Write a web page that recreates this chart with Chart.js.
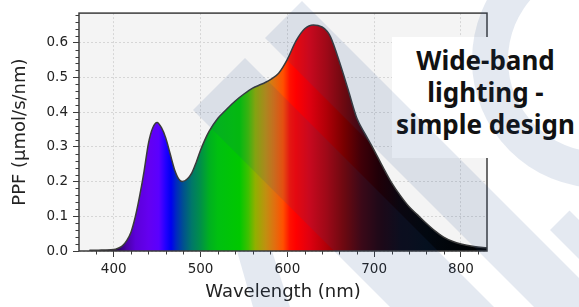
<!DOCTYPE html>
<html>
<head>
<meta charset="utf-8">
<script src="https://cdn.jsdelivr.net/npm/chart.js@4.4.1/dist/chart.umd.min.js"></script>
<style>
  html, body { margin: 0; padding: 0; background: #fff; }
  #wrap { position: relative; width: 579px; height: 307px; overflow: hidden; }
  #c { position: absolute; left: 0; top: 0; }
  #note {
    position: absolute; left: 392px; top: 37px; width: 187px; height: 121px;
    background: #fff; color: #111; text-align: center;
    font-family: "Noto Sans", "DejaVu Sans", sans-serif; font-weight: bold;
    font-size: 26px; line-height: 32px; padding-top: 7px; box-sizing: border-box;
  }
  #wm { position: absolute; left: 0; top: 0; pointer-events: none; }
</style>
</head>
<body>
<div id="wrap">
  <canvas id="c" width="579" height="307"></canvas>
  <div id="note">Wide-band<br>lighting -<br>simple design</div>
  <svg id="wm" width="579" height="307" viewBox="0 0 579 307">
    <g fill="rgb(30,70,140)" fill-opacity="0.12">
      <polygon points="245,58 193,110 593,510 645,458"/>
      <polygon points="302,1 265,38 665,438 702,401"/>
      <polygon points="569.5,210.5 550,230 850,530 869.5,510.5"/>
      <path fill-rule="evenodd" d="M 728 60 A 128 128 0 1 0 472 60 A 128 128 0 1 0 728 60 Z M 692 60 A 92 92 0 1 0 508 60 A 92 92 0 1 0 692 60 Z"/>
      <polygon points="237,251 253,307 290,307 272,251"/>
    </g>
  </svg>
</div>
<script>
// spectrum (nm, µmol/s/nm)
const wavelengths = [372, 380, 390, 400, 405, 410, 415, 420, 425, 430, 435, 440, 445, 450, 455,
  460, 465, 470, 475, 479, 485, 490, 495, 500, 505, 510, 520, 530, 540, 550, 560, 570, 575, 580, 590,
  600, 610, 620, 630, 640, 646, 650, 660, 670, 680, 690, 700, 710, 720, 730, 740, 750, 760, 770,
  780, 790, 800, 815, 830];
const ppf = [0.002, 0.002, 0.003, 0.004, 0.008, 0.015, 0.03, 0.055, 0.1, 0.16, 0.23, 0.31, 0.355, 0.37, 0.355,
  0.325, 0.28, 0.235, 0.207, 0.2, 0.208, 0.225, 0.255, 0.29, 0.32, 0.345, 0.382, 0.408, 0.432, 0.452, 0.469, 0.48, 0.486, 0.493, 0.512,
  0.552, 0.605, 0.64, 0.651, 0.645, 0.632, 0.615, 0.545, 0.465, 0.383, 0.335, 0.29, 0.242, 0.197, 0.16, 0.128, 0.104, 0.08, 0.058,
  0.04, 0.028, 0.02, 0.013, 0.009];

const xTicks = [400, 500, 600, 700, 800];
const yTicks = [0.0, 0.1, 0.2, 0.3, 0.4, 0.5, 0.6];
const xRange = [360, 830];
const yRange = [0, 0.685];

// colour of light along the wavelength axis
const spectrumStops = [
  [360, '#000000'], [395, '#100020'], [405, '#2a0060'], [415, '#4a00a8'], [425, '#5c00d8'],
  [440, '#6400f0'], [452, '#5a00ff'], [460, '#2000ff'], [466, '#0000f0'], [472, '#0028c0'],
  [480, '#005090'], [490, '#007868'], [500, '#009048'], [510, '#00b020'], [520, '#00c010'],
  [545, '#00c800'], [555, '#40c000'], [563, '#90b000'], [575, '#c09010'], [585, '#e07010'],
  [595, '#ff5000'], [603, '#ff1000'], [610, '#ff0000'], [625, '#e00010'], [645, '#b00008'],
  [665, '#780000'], [685, '#400008'], [705, '#200008'], [730, '#0a0610'], [760, '#020810'],
  [830, '#000000']
];

function spectrumFill(ctx) {
  const chart = ctx.chart;
  if (!chart.chartArea) return 'rgba(0,0,0,0)';
  const xs = chart.scales.x;
  const x0 = xs.getPixelForValue(xRange[0]), x1 = xs.getPixelForValue(xRange[1]);
  const g = chart.ctx.createLinearGradient(x0, 0, x1, 0);
  spectrumStops.forEach(([wl, col]) => g.addColorStop((wl - xRange[0]) / (xRange[1] - xRange[0]), col));
  return g;
}

const frame = {
  id: 'frame',
  beforeDraw(chart) {
    const {ctx, chartArea: a} = chart;
    ctx.save();
    ctx.fillStyle = '#f4f4f4';
    ctx.fillRect(a.left, a.top, a.right - a.left, a.bottom - a.top);
    ctx.restore();
  },
  afterDatasetsDraw(chart) {
    const {ctx, chartArea: a, scales: {x, y}} = chart;
    ctx.save();
    ctx.strokeStyle = '#3c3c3c';
    ctx.lineWidth = 1.5;
    ctx.strokeRect(a.left, a.top, a.right - a.left, a.bottom - a.top);
    // minor ticks
    ctx.lineWidth = 1;
    ctx.beginPath();
    for (let v = 380; v < xRange[1]; v += 20) {
      if (v % 100 === 0) continue;
      const px = Math.round(x.getPixelForValue(v)) + 0.5;
      ctx.moveTo(px, a.bottom); ctx.lineTo(px, a.bottom + 3.5);
    }
    for (let k = 1; k * 0.02 < yRange[1]; k++) {
      if (k % 5 === 0) continue;
      const py = Math.round(y.getPixelForValue(k * 0.02)) + 0.5;
      ctx.moveTo(a.left, py); ctx.lineTo(a.left - 3.5, py);
    }
    ctx.stroke();
    ctx.restore();
  }
};

const tickFont = {family: 'DejaVu Sans', size: 13.5};
const titleFont = {family: 'DejaVu Sans', size: 18};

new Chart(document.getElementById('c'), {
  type: 'line',
  data: {
    datasets: [{
      data: wavelengths.map((w, i) => ({x: w, y: ppf[i]})),
      borderColor: '#3a3a3a',
      borderWidth: 1.5,
      backgroundColor: spectrumFill,
      fill: 'origin',
      pointRadius: 0,
      cubicInterpolationMode: 'monotone'
    }]
  },
  options: {
    responsive: false,
    animation: false,
    devicePixelRatio: 1,
    layout: {padding: {left: 0, top: 8, right: 92, bottom: 0}},
    plugins: {legend: {display: false}, tooltip: {enabled: false}},
    scales: {
      x: {
        type: 'linear', min: xRange[0], max: xRange[1],
        afterBuildTicks: s => { s.ticks = xTicks.map(v => ({value: v})); },
        afterFit: s => { s.height = 56; },
        ticks: {font: tickFont, color: '#222', padding: 4, maxRotation: 0},
        grid: {color: '#d6d6d6', lineWidth: 1, tickColor: '#3c3c3c', tickLength: 6},
        border: {display: false, dash: [2, 2]},
        title: {display: true, text: 'Wavelength (nm)', font: titleFont, color: '#222', padding: {top: 0, bottom: 4}}
      },
      y: {
        min: yRange[0], max: yRange[1],
        afterBuildTicks: s => { s.ticks = yTicks.map(v => ({value: v})); },
        afterFit: s => { s.width = 79; },
        ticks: {font: tickFont, color: '#222', padding: 5, callback: v => v.toFixed(1)},
        grid: {color: '#d6d6d6', lineWidth: 1, tickColor: '#3c3c3c', tickLength: 6},
        border: {display: false, dash: [2, 2]},
        title: {display: true, text: 'PPF (μmol/s/nm)', font: titleFont, color: '#222', padding: {top: 10, bottom: 0}}
      }
    }
  },
  plugins: [frame]
});
</script>
</body>
</html>
